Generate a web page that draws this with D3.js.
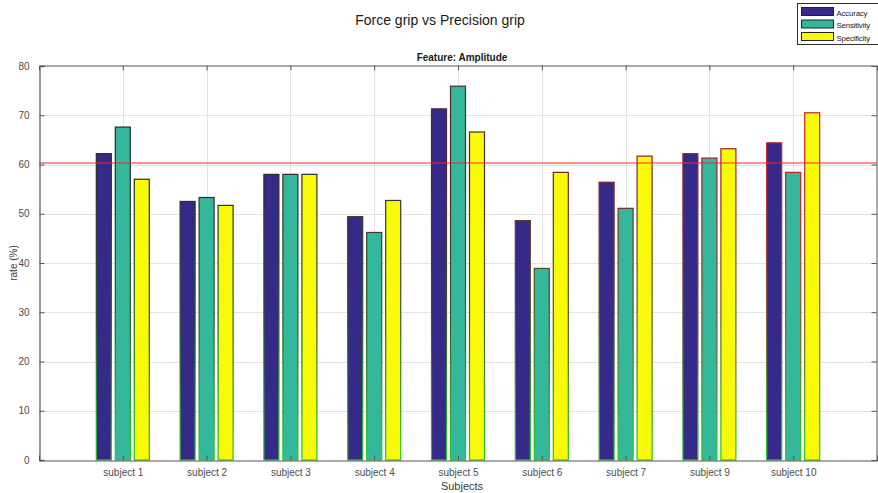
<!DOCTYPE html>
<html>
<head>
<meta charset="utf-8">
<script src="https://cdn.jsdelivr.net/npm/d3@7"></script>
<style>
  body { margin: 0; background: #fff; }
  svg { display: block; font-family: "Liberation Sans", Arial, sans-serif; }
</style>
</head>
<body>
<svg id="chart" width="878" height="493"></svg>
<script>
// Classification rates per subject (Force grip vs Precision grip, amplitude feature)
const subjects = ["subject 1", "subject 2", "subject 3", "subject 4", "subject 5",
                  "subject 6", "subject 7", "subject 9", "subject 10"];
const seriesNames = ["Accuracy", "Sensitivity", "Specificity"];
const accuracy    = [62.2, 52.5, 58.0, 49.4, 71.3, 48.6, 56.4, 62.2, 64.4];
const sensitivity = [67.6, 53.3, 58.0, 46.2, 75.9, 38.9, 51.1, 61.3, 58.4];
const specificity = [57.0, 51.7, 58.0, 52.7, 66.6, 58.4, 61.7, 63.2, 70.5];
const threshold = 60.3;
const yTicks = [0, 10, 20, 30, 40, 50, 60, 70, 80];

const colors = ["#352a87", "#35b79b", "#f9f90a"];
const series = [accuracy, sensitivity, specificity];

const svg = d3.select("#chart");
const plotL = 39, plotR = 877, plotT = 66, plotB = 460;

const x = d3.scaleLinear().domain([0, subjects.length + 1]).range([plotL, plotR]);
const y = d3.scaleLinear().domain([0, 80]).range([plotB, plotT]);

// grid
const grid = svg.append("g").attr("stroke", "#e3e3e3").attr("stroke-width", 1);
grid.selectAll("line.h").data(yTicks.slice(1, -1)).join("line")
  .attr("x1", plotL).attr("x2", plotR)
  .attr("y1", d => Math.round(y(d)) + 0.5).attr("y2", d => Math.round(y(d)) + 0.5);
grid.selectAll("line.v").data(subjects).join("line")
  .attr("y1", plotT).attr("y2", plotB)
  .attr("x1", (d, i) => Math.round(x(i + 1)) + 0.5).attr("x2", (d, i) => Math.round(x(i + 1)) + 0.5);

// edge gradients: green at the base, darkening toward the top, warmer to the right
const defs = svg.append("defs");
subjects.forEach((s, i) => {
  const t = i / (subjects.length - 1);
  const topCol = d3.interpolateRgb("#2a2a2a", "#c0202a")(Math.pow(t, 2));
  const g = defs.append("linearGradient").attr("id", "edge" + i)
    .attr("gradientUnits", "userSpaceOnUse")
    .attr("x1", 0).attr("x2", 0).attr("y1", plotB).attr("y2", plotT);
  g.append("stop").attr("offset", 0).attr("stop-color", "#22cc22");
  g.append("stop").attr("offset", 0.35).attr("stop-color", d3.interpolateRgb("#22aa22", topCol)(0.6));
  g.append("stop").attr("offset", 0.7).attr("stop-color", topCol);
  g.append("stop").attr("offset", 1).attr("stop-color", topCol);
});

// bars
const barW = 15, gap = 19;
series.forEach((vals, k) => {
  svg.append("g").selectAll("rect").data(vals).join("rect")
    .attr("x", (d, i) => x(i + 1) + (k - 1) * gap - barW / 2)
    .attr("y", d => y(d))
    .attr("width", barW)
    .attr("height", d => y(0) - y(d))
    .attr("fill", colors[k])
    .attr("stroke", (d, i) => `url(#edge${i})`)
    .attr("stroke-width", 1.2);
});

// threshold line
svg.append("line")
  .attr("x1", plotL).attr("x2", plotR)
  .attr("y1", y(threshold)).attr("y2", y(threshold))
  .attr("stroke", "#ff2020").attr("stroke-width", 1.2);

// axes (ticks point inward, box around plot)
const axisCol = "#262626";
const yAxisL = svg.append("g").attr("transform", `translate(${plotL + 0.5},0)`)
  .call(d3.axisLeft(y).tickValues(yTicks).tickSize(-5).tickPadding(10));
const yAxisR = svg.append("g").attr("transform", `translate(${plotR - 0.5},0)`)
  .call(d3.axisRight(y).tickValues(yTicks).tickSize(-5).tickFormat(""));
const xAxisB = svg.append("g").attr("transform", `translate(0,${plotB + 0.5})`)
  .call(d3.axisBottom(x).tickValues(d3.range(1, subjects.length + 1))
        .tickFormat(i => subjects[i - 1]).tickSize(-5).tickPadding(8));
const xAxisT = svg.append("g").attr("transform", `translate(0,${plotT - 0.5})`)
  .call(d3.axisTop(x).tickValues(d3.range(1, subjects.length + 1)).tickFormat("").tickSize(-5));

[yAxisL, yAxisR, xAxisB, xAxisT].forEach(a => {
  a.select(".domain").attr("stroke", "#555");
  a.selectAll(".tick line").attr("stroke", "#555");
  a.selectAll("text").attr("fill", axisCol).attr("font-size", 10)
    .attr("font-family", "Liberation Sans, Arial, sans-serif");
});
yAxisL.select(".domain").attr("stroke", "#777").attr("stroke-width", 1.5);
yAxisL.selectAll("text").attr("fill", "#4d4d4d");
xAxisB.selectAll("text").attr("fill", "#4d4d4d");

// titles and labels
svg.append("text").attr("x", 440).attr("y", 25).attr("text-anchor", "middle")
  .attr("font-size", 14).attr("fill", "#1a1a1a").text("Force grip vs Precision grip");
svg.append("text").attr("x", 462).attr("y", 61).attr("text-anchor", "middle")
  .attr("font-size", 10).attr("font-weight", "bold").attr("fill", "#1a1a1a").text("Feature: Amplitude");
svg.append("text").attr("x", 462).attr("y", 490).attr("text-anchor", "middle")
  .attr("font-size", 11).attr("fill", "#3a3a3a").text("Subjects");
svg.append("text").attr("transform", "translate(17,263) rotate(-90)").attr("text-anchor", "middle")
  .attr("font-size", 10).attr("fill", "#3a3a3a").text("rate (%)");

// legend
const lg = svg.append("g").attr("transform", "translate(797.5,3.5)");
lg.append("rect").attr("width", 90).attr("height", 41).attr("fill", "#fff").attr("stroke", "#333");
seriesNames.forEach((name, k) => {
  const row = lg.append("g").attr("transform", `translate(4,${4 + k * 12.5})`);
  row.append("rect").attr("width", 32).attr("height", 8).attr("fill", colors[k]).attr("stroke", "#222");
  row.append("text").attr("x", 35).attr("y", 8).attr("font-size", 7.8)
    .attr("letter-spacing", -0.15).attr("fill", "#1a1a1a").text(name);
});
</script>
</body>
</html>
